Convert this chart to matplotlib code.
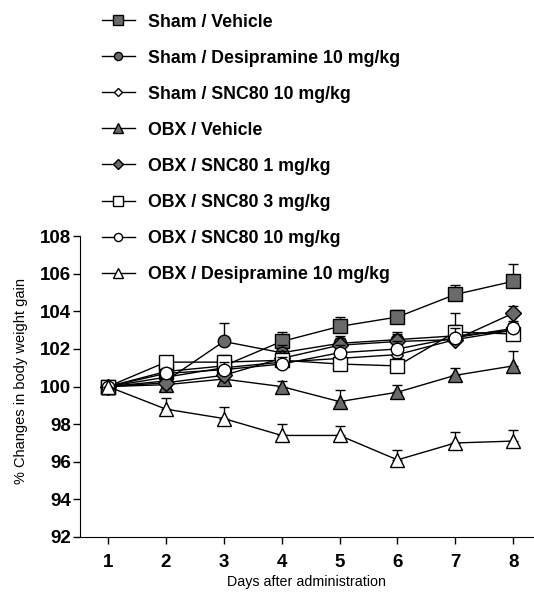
import matplotlib.pyplot as plt
from matplotlib.lines import Line2D
import numpy as np

plt.rcParams['font.family'] = ['Liberation Sans', 'DejaVu Sans']

days = [1, 2, 3, 4, 5, 6, 7, 8]

labels = ['Sham / Vehicle', 'Sham / Desipramine 10 mg/kg', 'Sham / SNC80 10 mg/kg',
          'OBX / Vehicle', 'OBX / SNC80 1 mg/kg', 'OBX / SNC80 3 mg/kg',
          'OBX / SNC80 10 mg/kg', 'OBX / Desipramine 10 mg/kg']

sham_veh = [100, 100.8, 101.1, 102.4, 103.2, 103.7, 104.9, 105.6]
sham_dmi = [100, 100.3, 102.4, 101.8, 102.3, 102.5, 102.7, 103.0]
sham_snc10 = [100, 100.5, 101.0, 101.3, 101.5, 101.7, 102.5, 103.0]
obx_veh = [100, 100.1, 100.4, 100.0, 99.2, 99.7, 100.6, 101.1]
obx_snc1 = [100, 100.2, 100.6, 101.5, 102.2, 102.4, 102.5, 103.9]
obx_snc3 = [100, 101.3, 101.3, 101.4, 101.2, 101.1, 102.9, 102.8]
obx_snc10 = [100, 100.7, 100.9, 101.2, 101.8, 102.0, 102.6, 103.1]
obx_dmi = [100, 98.8, 98.3, 97.4, 97.4, 96.1, 97.0, 97.1]

err_sham_veh = [0, 0.4, 0.4, 0.5, 0.5, 0.4, 0.5, 0.9]
err_sham_dmi = [0, 0.3, 1.0, 0.4, 0.4, 0.4, 0.4, 0.4]
err_sham_snc10 = [0, 0.3, 0.4, 0.4, 0.4, 0.4, 0.8, 0.4]
err_obx_veh = [0, 0.3, 0.4, 0.3, 0.6, 0.4, 0.4, 0.8]
err_obx_snc1 = [0, 0.3, 0.4, 0.4, 0.4, 0.4, 0.6, 0.4]
err_obx_snc3 = [0, 0.3, 0.4, 0.4, 0.4, 0.4, 1.0, 0.5]
err_obx_snc10 = [0, 0.3, 0.4, 0.4, 0.4, 0.4, 0.5, 0.4]
err_obx_dmi = [0, 0.6, 0.6, 0.6, 0.5, 0.5, 0.6, 0.6]

series = [sham_veh, sham_dmi, sham_snc10, obx_veh, obx_snc1, obx_snc3, obx_snc10, obx_dmi]
errs = [err_sham_veh, err_sham_dmi, err_sham_snc10, err_obx_veh, err_obx_snc1,
        err_obx_snc3, err_obx_snc10, err_obx_dmi]

gray = '#6a6a6a'
markers = ['s', 'o', 'D', '^', 'D', 's', 'o', '^']
faces = [gray, gray, 'white', gray, gray, 'white', 'white', 'white']
sizes = [10, 9, 6, 10, 8, 10, 9, 10]

fig = plt.figure(figsize=(5.34, 5.92), dpi=100)
ax = fig.add_axes([0.1498, 0.093, 0.8502, 0.508])

# filled markers first, open ones on top
order = [0, 1, 3, 4, 2, 5, 6, 7]
for i in order:
    y = np.array(series[i])
    e = np.array(errs[i])
    ax.errorbar(days, y, yerr=[np.zeros_like(e), e], color='black', lw=1,
                elinewidth=1, capsize=3.5, capthick=1, marker=markers[i],
                markersize=sizes[i], markerfacecolor=faces[i],
                markeredgecolor='black', markeredgewidth=1, zorder=3 + i)

ax.set_xlim(0.516, 8.36)
ax.set_ylim(92, 108)
ax.set_xticks(days)
ax.set_yticks(np.arange(92, 109, 2))
ax.spines['top'].set_visible(False)
ax.spines['right'].set_visible(False)
ax.tick_params(direction='out', length=5, width=1, labelsize=13.5)
ax.tick_params(axis='x', pad=7)
ax.tick_params(axis='y', pad=1.5)
for t in ax.get_xticklabels() + ax.get_yticklabels():
    t.set_fontweight('bold')
ax.set_xlabel('Days after administration', fontsize=10.3, labelpad=3)
ax.set_ylabel('% Changes in body weight gain', fontsize=10.5)
ax.yaxis.set_label_coords(-0.115, 0.52)

handles = [Line2D([], [], color='black', lw=1, marker=markers[i], markersize=sizes[i] * 0.65,
                  markerfacecolor=faces[i], markeredgecolor='black', markeredgewidth=1)
           for i in range(8)]
fig.legend(handles, labels, loc='upper left', bbox_to_anchor=(0.191, 0.977),
           frameon=False, prop={'size': 12.8, 'weight': 'bold'}, handlelength=1.85,
           handletextpad=0.72, labelspacing=1.07, borderpad=0, borderaxespad=0)

fig.savefig('out.png', dpi=100)
